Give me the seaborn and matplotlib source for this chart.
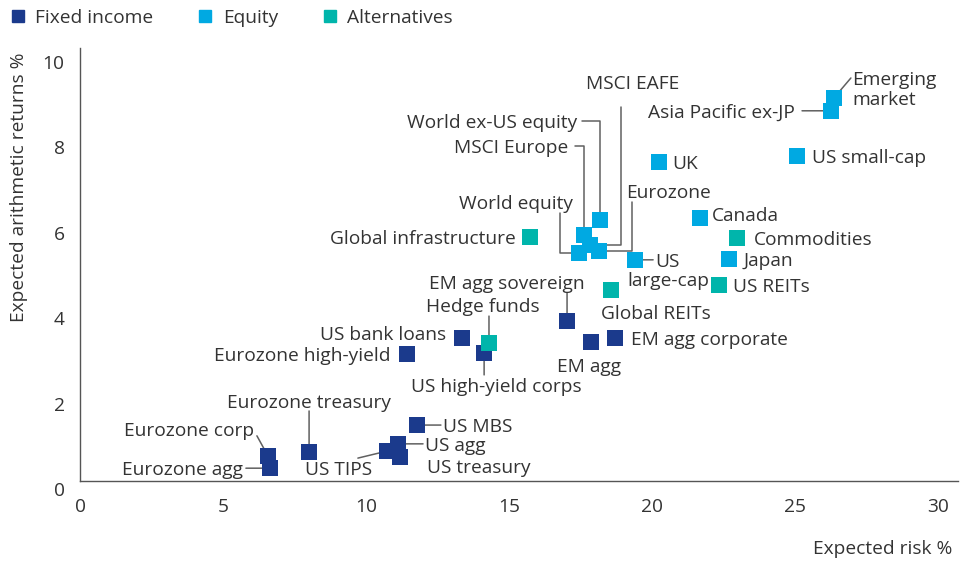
import matplotlib
matplotlib.use("Agg")
import matplotlib.pyplot as plt
import matplotlib.transforms as mtransforms
from matplotlib.lines import Line2D
import seaborn as sns
import pandas as pd

# ---------------- data ----------------
fixed_names = ["Eurozone agg", "Eurozone corp", "Eurozone treasury", "US TIPS", "US agg",
               "US treasury", "US MBS", "Eurozone high-yield", "US bank loans",
               "US high-yield corps", "EM agg sovereign", "EM agg", "EM agg corporate"]
fixed_risk = [6.64, 6.57, 8.01, 10.73, 11.12, 11.19, 11.78, 11.43, 13.36, 14.13, 17.03, 17.87, 18.71]
fixed_ret = [0.30, 0.59, 0.68, 0.70, 0.87, 0.56, 1.31, 2.97, 3.35, 3.00, 3.75, 3.26, 3.35]

equity_names = ["World equity", "MSCI Europe", "World ex-US equity", "MSCI EAFE", "Eurozone",
                "US large-cap", "UK", "Canada", "Japan", "US small-cap", "Emerging market",
                "Asia Pacific ex-JP"]
equity_risk = [17.45, 17.62, 18.18, 17.83, 18.15, 19.41, 20.24, 21.68, 22.69, 25.07, 26.36, 26.26]
equity_ret = [5.34, 5.76, 6.11, 5.53, 5.39, 5.18, 7.47, 6.16, 5.20, 7.61, 8.97, 8.67]

alt_names = ["Global infrastructure", "Global REITs", "Hedge funds", "Commodities", "US REITs"]
alt_risk = [15.73, 18.57, 14.30, 22.97, 22.34]
alt_ret = [5.71, 4.47, 3.23, 5.69, 4.59]

groups = ["Fixed income", "Equity", "Alternatives"]
x_ticks = [0, 5, 10, 15, 20, 25, 30]
y_ticks = [0, 2, 4, 6, 8, 10]

# ---------------- styling ----------------
colors = {"Fixed income": "#1b3a8c", "Equity": "#00a9e2", "Alternatives": "#00b5ab"}
TEXT = "#333333"
LINE = "#606060"
FONT = ["Open Sans", "DejaVu Sans"]
FS = 13.8
TEXT_DROP = 2  # visual centring tweak (pixels)

# label layout: offsets in image pixels relative to the marker (y down positive)
ELB_V = "angle,angleA=90,angleB=0,rad=0"
ELB_H = "angle,angleA=0,angleB=90,rad=0"
layout = {
    "Eurozone agg": dict(t=[("Eurozone agg", -27, 0, "right")], l=(-24, 0, None)),
    "Eurozone corp": dict(t=[("Eurozone corp", -14, -27, "right")], l=(-11, -20, None)),
    "Eurozone treasury": dict(t=[("Eurozone treasury", 0, -51, "center")], l=(0, -41, None)),
    "US TIPS": dict(t=[("US TIPS", -48, 17, "center")], l=(-29, 7, None)),
    "US agg": dict(t=[("US agg", 27, 0, "left")], l=(25, 0, None)),
    "US treasury": dict(t=[("US treasury", 27, 9, "left")], l=None),
    "US MBS": dict(t=[("US MBS", 26, 0, "left")], l=(24, 0, None)),
    "Eurozone high-yield": dict(t=[("Eurozone high-yield", -16, 0, "right")], l=None),
    "US bank loans": dict(t=[("US bank loans", -16, -5, "right")], l=None),
    "US high-yield corps": dict(t=[("US high-yield corps", 12, 32, "center")], l=(0, 22, None)),
    "EM agg sovereign": dict(t=[("EM agg sovereign", 18, -39, "right")], l=(0, -28, None)),
    "EM agg": dict(t=[("EM agg", -2, 23, "center")], l=None),
    "EM agg corporate": dict(t=[("EM agg corporate", 16, 0, "left")], l=None),
    "Global infrastructure": dict(t=[("Global infrastructure", -14, 0, "right")], l=None),
    "Global REITs": dict(t=[("Global REITs", -10, 22, "left")], l=None),
    "Hedge funds": dict(t=[("Hedge funds", -6, -38, "center")], l=(0, -27, None)),
    "Commodities": dict(t=[("Commodities", 17, 0, "left")], l=None),
    "US REITs": dict(t=[("US REITs", 14, 0, "left")], l=None),
    "World equity": dict(t=[("World equity", -6, -51, "right")], l=(-19, -40, ELB_V)),
    "MSCI Europe": dict(t=[("MSCI Europe", -16, -89, "right")], l=(-9, -89, ELB_H)),
    "World ex-US equity": dict(t=[("World ex-US equity", -23, -99, "right")], l=(-18, -99, ELB_H)),
    "MSCI EAFE": dict(t=[("MSCI EAFE", 43, -163, "center")], l=(31, -138, ELB_V)),
    "Eurozone": dict(t=[("Eurozone", 27, -60, "left")], l=(33, -49, ELB_V)),
    "US large-cap": dict(t=[("US", 20, 0, "left"), ("large-cap", -8, 19, "left")], l=(18, 0, None)),
    "UK": dict(t=[("UK", 13, 0, "left")], l=None),
    "Canada": dict(t=[("Canada", 12, -4, "left")], l=None),
    "Japan": dict(t=[("Japan", 15, 0, "left")], l=None),
    "US small-cap": dict(t=[("US small-cap", 15, 0, "left")], l=None),
    "Emerging market": dict(t=[("Emerging\nmarket", 18, -10, "left")], l=(17, -20, None)),
    "Asia Pacific ex-JP": dict(t=[("Asia Pacific ex-JP", -36, 0, "right")], l=(-29, 0, None)),
}

# ---------------- frame ----------------
df = pd.DataFrame({
    "name": fixed_names + equity_names + alt_names,
    "risk": fixed_risk + equity_risk + alt_risk,
    "ret": fixed_ret + equity_ret + alt_ret,
    "group": [groups[0]] * len(fixed_names) + [groups[1]] * len(equity_names) + [groups[2]] * len(alt_names),
})

sns.set_theme(style="white")
plt.rcParams["font.family"] = FONT

fig = plt.figure(figsize=(9.69, 5.63), dpi=100)
W, H = 969, 563
ax = fig.add_axes([80 / W, 82 / H, 878 / W, 433 / H])

sns.scatterplot(data=df, x="risk", y="ret", hue="group", palette=colors, hue_order=groups,
                marker="s", s=128, linewidth=0, legend=False, ax=ax, zorder=3)

ax.set_xlim(0, 878 / 28.6)
ax.set_ylim(0, 433 / 42.7)
ax.set_xticks(x_ticks)
ax.set_yticks(y_ticks)
ax.tick_params(axis="both", length=0, labelsize=FS, labelcolor=TEXT)
ax.tick_params(axis="x", pad=12)
ax.tick_params(axis="y", pad=11)
shift = mtransforms.ScaledTranslation(0, -8 / 100, fig.dpi_scale_trans)
for lab in ax.get_yticklabels():
    lab.set_transform(lab.get_transform() + shift)

for side in ["top", "right"]:
    ax.spines[side].set_visible(False)
for side in ["left", "bottom"]:
    ax.spines[side].set_color("#555555")
    ax.spines[side].set_linewidth(1.0)

ax.set_xlabel("Expected risk %", fontsize=FS, color=TEXT, loc="right")
ax.xaxis.set_label_coords(0.994, -0.137)
ax.set_ylabel("Expected arithmetic returns %", fontsize=FS, color=TEXT, loc="top")
ax.yaxis.set_label_coords(-0.059, 0.99)

# ---------------- labels ----------------
for _, row in df.iterrows():
    spec = layout[row["name"]]
    for txt, dx, dy, ha in spec["t"]:
        ax.annotate(txt, xy=(row["risk"], row["ret"]), xytext=(dx, -(dy + TEXT_DROP)),
                    textcoords="offset pixels", ha=ha, va="center", fontsize=FS,
                    color=TEXT, annotation_clip=False, zorder=4)
    if spec["l"] is not None:
        sx, sy, conn = spec["l"]
        ax.annotate("", xy=(row["risk"], row["ret"]), xytext=(sx, -sy),
                    textcoords="offset pixels", annotation_clip=False, zorder=2,
                    arrowprops=dict(arrowstyle="-", color=LINE, lw=1.1, shrinkA=0, shrinkB=0,
                                    connectionstyle=conn if conn else "arc3"))

# ---------------- legend ----------------
handles = [Line2D([], [], marker="s", linestyle="", color=colors[g], markersize=8) for g in groups]
fig.legend(handles, groups, loc="upper left", bbox_to_anchor=(9 / W, 1 - 9 / H), ncol=3,
           frameon=False, fontsize=FS, labelcolor=TEXT, handlelength=0.9, handletextpad=0.47,
           columnspacing=2.25, borderpad=0, borderaxespad=0)

fig.savefig("out.png", dpi=100)
